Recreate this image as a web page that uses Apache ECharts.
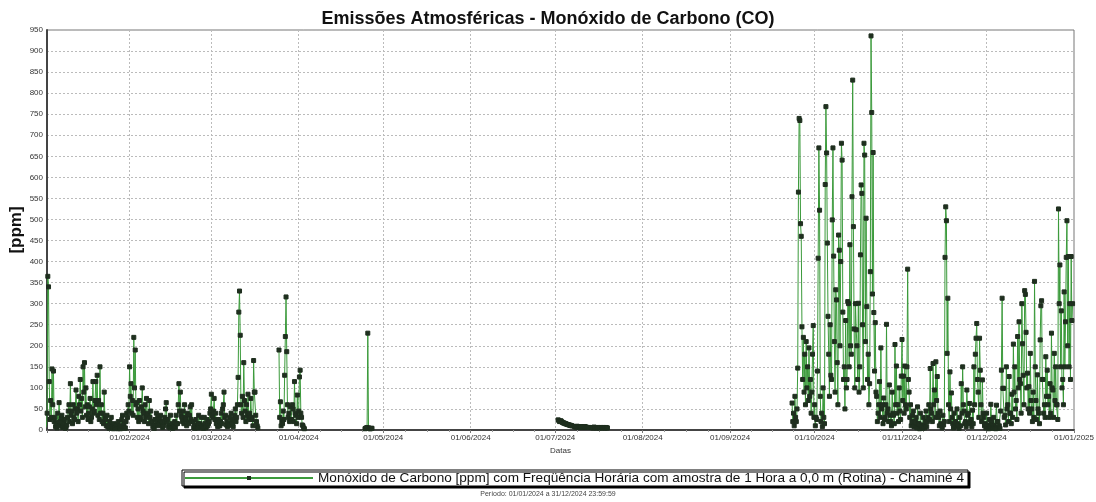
<!DOCTYPE html>
<html>
<head>
<meta charset="utf-8">
<title>Emissões Atmosféricas - Monóxido de Carbono (CO)</title>
<script src="https://cdn.jsdelivr.net/npm/echarts@6/dist/echarts.min.js"></script>
<style>
  html, body { margin: 0; padding: 0; background: #fff; }
  #chart { width: 1096px; height: 502px; }
</style>
</head>
<body>
<div id="chart"></div>
<script>
// leituras a cada 6 horas, estimadas a partir do gráfico (ppm)
const stepHours = 6;

// jan - mar
const janMarStart = [2024, 0, 1, 12];
const janMarCO = [
  50, 12, 20, 5, 10, 40, 365, 340, 115, 25, 70, 30, 145, 60, 140, 20, 30, 8, 15, 5, 40, 18, 65, 10, 20, 28, 35, 6, 10, 15, 25, 4, 8, 12, 30, 45, 60, 20, 110, 35,
  45, 15, 60, 30, 25, 50, 95, 40, 50, 20, 80, 60, 120, 45, 75, 30, 150, 90, 160, 55, 100, 35, 60, 25, 40, 55, 75, 20, 30, 50, 115, 40, 45, 70, 115, 60, 130, 35, 70, 25,
  150, 40, 60, 20, 40, 15, 90, 30, 25, 10, 35, 8, 10, 4, 20, 12, 30, 6, 8, 3, 15, 6, 5, 10, 12, 3, 20, 8, 5, 3, 10, 25, 35, 6, 15, 4, 5, 20, 40, 30,
  60, 45, 150, 80, 110, 40, 70, 35, 220, 100, 190, 60, 65, 30, 50, 20, 70, 25, 30, 55, 100, 45, 40, 20, 60, 30, 75, 40, 35, 15, 70, 30, 45, 20, 20, 8, 10, 4, 25, 12,
  40, 20, 30, 10, 15, 25, 35, 12, 20, 6, 10, 18, 30, 50, 65, 20, 25, 8, 10, 5, 35, 12, 15, 4, 5, 10, 20, 6, 35, 15, 15, 60, 110, 45, 90, 35, 30, 20, 45, 15,
  60, 30, 25, 10, 40, 18, 15, 35, 55, 25, 60, 20, 20, 6, 10, 4, 25, 10, 5, 15, 35, 12, 15, 5, 30, 10, 10, 4, 30, 15, 5, 8, 25, 10, 15, 20, 40, 50, 85, 35,
  30, 45, 75, 25, 40, 15, 15, 8, 25, 10, 10, 20, 40, 15, 50, 60, 90, 30, 35, 12, 20, 8, 10, 15, 30, 12, 40, 20, 15, 8, 25, 35, 50, 20, 30, 60, 125, 280, 330, 225,
  60, 40, 80, 30, 160, 70, 45, 20, 60, 35, 85, 30, 40, 25, 75, 30, 25, 10, 165, 90, 90, 35, 20, 10, 5];

// fim de março / início de abril
const marAprStart = [2024, 2, 25, 0];
const marAprCO = [190, 30, 67, 10, 20, 15, 45, 25, 130, 222, 316, 186, 60, 30, 40, 20, 55, 25, 25, 60,
  50, 20, 115, 40, 35, 15, 83, 30, 45, 126, 142, 40, 30, 12, 10, 5, 3];

// pico isolado de abril
const aprStart = [2024, 3, 24, 12];
const aprCO = [3, 4, 5, 6, 230, 5, 4, 3, 3, 4, 4];

// julho
const julStart = [2024, 6, 2, 0];
const julCO = [24, 23, 20, 21, 22, 20, 18, 17, 17, 16, 15, 15, 14, 13, 13, 12, 12, 11, 11, 10, 10, null, null,
  8, 8, 7, 7, 9, 8, 8, 7, 7, 8, 8, 6, 6, 7, 8, 8, 7, 7, 6, 6, 6, 6, null, null,
  6, 6, 5, 5, 7, 6, 6, 5, 5, 6, 6, 5, 5, 6, 6, 5, 5, 6, 6, 5, 5, 6, 5, 5];

// setembro - dezembro
const sepDecStart = [2024, 8, 23, 0];
const sepDecCO = [
  64, 20, 40, 10, 80, 30, 20, 50, 147, 565, 740, 735, 490, 460, 245, 120, 220, 90, 180, 60, 210, 100, 150, 70, 195, 80, 120, 40, 90, 180, 248, 30, 60, 10, 30, 25, 140, 408, 670, 522,
  80, 20, 40, 8, 100, 30, 15, 583, 768, 658, 444, 270, 180, 80, 250, 130, 120, 499, 670, 413, 210, 90, 333, 309, 160, 60, 463, 427, 200, 400, 681, 641, 280, 120, 150, 50, 260, 100, 120, 305,
  300, 150, 440, 200, 180, 554, 831, 483, 240, 100, 300, 238, 200, 120, 301, 90, 150, 416, 582, 562, 250, 100, 681, 653, 210, 503, 293, 120, 180, 60, 110, 376, 936, 754, 323, 659, 279, 140, 255, 90,
  80, 20, 40, 60, 115, 30, 195, 50, 60, 15, 76, 25, 30, 60, 251, 40, 50, 20, 107, 35, 20, 10, 90, 40, 35, 15, 203, 60, 152, 40, 60, 20, 100, 45, 25, 128, 215, 70, 128, 40,
  152, 60, 50, 150, 382, 120, 90, 30, 60, 10, 20, 35, 45, 8, 10, 20, 30, 5, 55, 15, 15, 3, 40, 12, 10, 4, 30, 10, 5, 20, 45, 8, 20, 30, 60, 25, 146, 50, 40, 20,
  158, 60, 95, 30, 162, 70, 127, 40, 30, 10, 45, 15, 10, 5, 35, 12, 20, 410, 530, 497, 182, 313, 60, 20, 138, 50, 88, 30, 15, 5, 40, 12, 20, 8, 50, 15, 10, 4, 30, 10,
  110, 40, 150, 60, 45, 15, 20, 8, 95, 35, 40, 15, 63, 20, 25, 8, 47, 15, 150, 60, 180, 218, 253, 120, 90, 30, 218, 142, 60, 20, 119, 40, 30, 10, 15, 5, 40, 12, 8, 3,
  25, 8, 61, 20, 12, 4, 30, 10, 5, 3, 59, 20, 20, 6, 10, 4, 45, 142, 313, 99, 99, 30, 35, 12, 150, 50, 60, 20, 127, 40, 40, 15, 85, 30, 204, 90, 150, 50, 70, 25,
  222, 100, 257, 120, 110, 40, 300, 205, 130, 60, 331, 322, 232, 100, 135, 50, 103, 40, 182, 70, 50, 20, 90, 30, 353, 150, 70, 25, 131, 50, 40, 15, 214, 295, 307, 120, 120, 40, 60, 30,
  174, 80, 142, 60, 80, 30, 110, 40, 230, 100, 95, 30, 182, 70, 150, 60, 60, 25, 525, 300, 392, 150, 283, 100, 120, 60, 328, 150, 257, 410, 497, 200, 412, 150, 300, 120, 412, 260, 300];

const yMin = 0, yMax = 950, yStep = 50;
const xMin = new Date(2024, 0, 2, 17).getTime();
const xMax = new Date(2025, 0, 1, 0).getTime();

const seriesName = 'Monóxido de Carbono [ppm] com Freqüência Horária com amostra de 1 Hora a 0,0 m (Rotina) - Chaminé 4';

function buildData(segments) {
  let out = [];
  segments.forEach(function (seg, k) {
    let t0 = new Date(seg.start[0], seg.start[1], seg.start[2], seg.start[3]).getTime();
    if (k > 0) out.push([t0 - 3600e3, null]); // quebra entre os trechos
    seg.values.forEach(function (v, i) {
      out.push([t0 + i * stepHours * 3600e3, v]);
    });
  });
  return out;
}

const coData = buildData([
  { start: janMarStart, values: janMarCO },
  { start: marAprStart, values: marAprCO },
  { start: aprStart, values: aprCO },
  { start: julStart, values: julCO },
  { start: sepDecStart, values: sepDecCO }
]);

let myChart = echarts.init(document.getElementById('chart'));
myChart.setOption({
  animation: false,
  textStyle: { fontFamily: 'Liberation Sans, Arial, sans-serif' },
  title: {
    text: 'Emissões Atmosféricas - Monóxido de Carbono (CO)',
    left: 'center',
    top: 5,
    textStyle: { fontSize: 18, fontWeight: 'bold', color: '#111' }
  },
  grid: {
    left: 47, right: 22, top: 30, bottom: 72,
    outerBoundsMode: 'none',
    show: true, borderColor: '#777', borderWidth: 1
  },
  legend: {
    left: 182, top: 470,
    padding: [1, 4, 1, 2],
    itemWidth: 128, itemHeight: 5,
    borderColor: '#000', borderWidth: 1,
    backgroundColor: '#fff',
    shadowColor: '#000', shadowOffsetX: 2, shadowOffsetY: 2, shadowBlur: 0,
    textStyle: { fontSize: 13.6, color: '#111' },
    data: [seriesName]
  },
  xAxis: {
    type: 'time',
    min: xMin, max: xMax,
    splitNumber: 12,
    minInterval: 28 * 86400e3,
    maxInterval: 31 * 86400e3,
    name: 'Datas',
    nameLocation: 'middle',
    nameGap: 16,
    nameTextStyle: { fontSize: 8, color: '#333' },
    axisLine: { lineStyle: { color: '#444', width: 2 } },
    axisTick: { show: true, length: 3, lineStyle: { color: '#777' } },
    minorTick: { show: true, splitNumber: 4, length: 2, lineStyle: { color: '#999' } },
    axisLabel: {
      formatter: '{dd}/{MM}/{yyyy}',
      fontSize: 8, color: '#333', margin: 4,
      showMinLabel: false, showMaxLabel: true
    },
    splitLine: { show: true, lineStyle: { color: '#bbb', type: [2, 2] } }
  },
  yAxis: {
    type: 'value',
    min: yMin, max: yMax, interval: yStep,
    name: '[ppm]',
    nameLocation: 'middle',
    nameRotate: 90,
    nameGap: 22,
    nameMoveOverlap: false,
    nameTextStyle: { fontSize: 17, fontWeight: 'bold', color: '#111' },
    axisLine: { show: true, lineStyle: { color: '#444', width: 2 } },
    axisTick: { show: false },
    axisLabel: { fontSize: 8, color: '#333', margin: 4 },
    splitLine: { show: true, lineStyle: { color: '#bbb', type: [2, 2] } }
  },
  series: [{
    name: seriesName,
    type: 'line',
    data: coData,
    connectNulls: false,
    showSymbol: true,
    showAllSymbol: true,
    symbol: 'rect',
    symbolSize: 4,
    lineStyle: { color: '#3b9a3b', width: 1 },
    itemStyle: { color: '#1f2f1f', borderColor: '#1f2f1f' },
    emphasis: { disabled: true }
  }],
  graphic: [{
    type: 'text',
    left: 'center',
    top: 491,
    style: {
      text: 'Período: 01/01/2024 a 31/12/2024 23:59:59',
      fontSize: 7, fill: '#444', fontFamily: 'Liberation Sans, Arial, sans-serif'
    }
  }]
});
</script>
</body>
</html>
